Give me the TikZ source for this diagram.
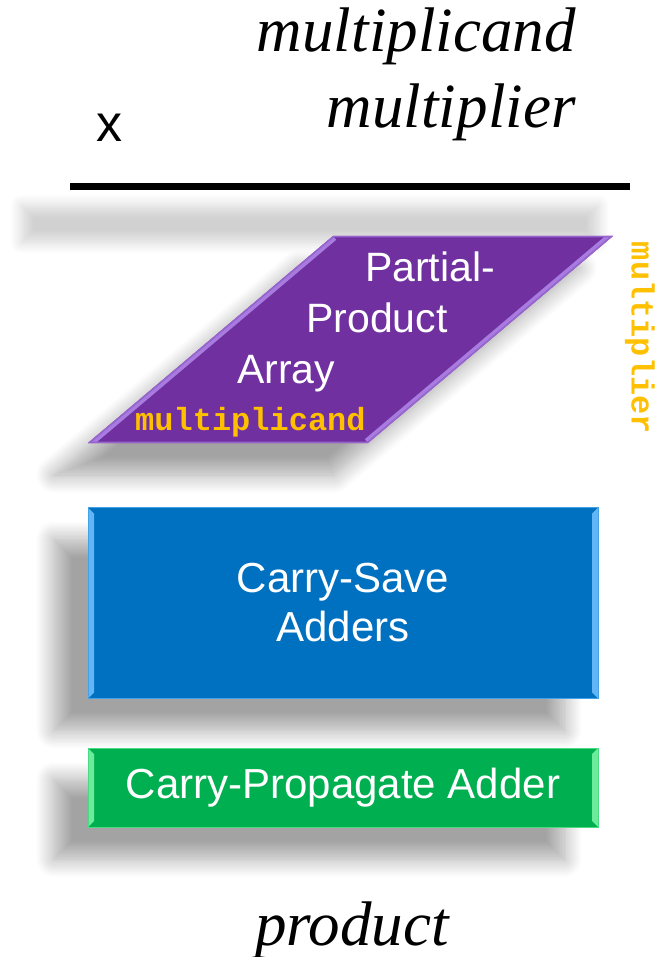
\documentclass[tikz,border=0pt]{standalone}
\usepackage{fontspec}
\setmainfont{Liberation Serif}
\setsansfont{Liberation Sans}
\setmonofont{Liberation Mono}
\usetikzlibrary{shadows.blur}

\definecolor{ppurple}{HTML}{7030A0}
\definecolor{ppurplelt}{HTML}{A77BDF}
\definecolor{pblue}{HTML}{0070C0}
\definecolor{pbluelt}{HTML}{62B6F6}
\definecolor{pgreen}{HTML}{00B050}
\definecolor{pgreenlt}{HTML}{6BEB9B}
\definecolor{porange}{HTML}{FFC000}

\begin{document}
\begin{tikzpicture}[x=1pt, y=-1pt,
    softshadow/.style = {blur shadow={shadow xshift=-34pt, shadow yshift=-32pt,
        shadow blur radius=18pt, shadow opacity=36, shadow blur steps=14}},
    bevel/.style = {path picture={
        \fill[#1] (path picture bounding box.north west) -- ++(6pt,-6pt)
            -- ([xshift=6pt,yshift=6pt]path picture bounding box.south west)
            -- (path picture bounding box.south west) -- cycle;
        \fill[#1] (path picture bounding box.north east) -- ++(-6pt,-6pt)
            -- ([xshift=-6pt,yshift=6pt]path picture bounding box.south east)
            -- (path picture bounding box.south east) -- cycle;}},
    stage/.style = {rectangle, minimum width=510pt, inner sep=0pt, softshadow,
        text=white, align=center, font=\sffamily\fontsize{42}{49}\selectfont},
    operand/.style = {font=\rmfamily\itshape\fontsize{63}{63}\selectfont},
    bits/.style = {text=porange, inner sep=0pt, font=\ttfamily\bfseries\fontsize{32}{32}\selectfont},
    celltext/.style = {text=white, inner sep=0pt, font=\sffamily\fontsize{41}{41}\selectfont}]

    \useasboundingbox (0,0) rectangle (660,957);

    % Operands
    \node[operand, anchor=base east] (mcand) at (579,52) {multiplicand};
    \node[operand, anchor=base east] (mplier) at (579,128) {multiplier};
    \node[anchor=base west, inner sep=0pt, font=\sffamily\fontsize{52}{52}\selectfont] (times) at (96,142) {x};

    % Rule and its fuzzy shadow
    \draw[line width=7pt] (70,187) -- (630,187);
    \path[blur shadow={shadow xshift=0pt, shadow yshift=0pt, shadow blur radius=12pt,
        shadow opacity=18, shadow blur steps=10}] (22,206) rectangle (598,242);

    % Partial-product array
    \path[fill=ppurple, softshadow] (333,236) -- (613,236) -- (368,443) -- (88,443) -- cycle;
    \begin{scope}
        \clip (333,236) -- (613,236) -- (368,443) -- (88,443) -- cycle;
        \draw[ppurplelt, line width=10pt] (333,236) -- (88,443);
        \draw[ppurplelt, line width=10pt] (613,236) -- (368,443);
        \draw[ppurplelt!70!ppurple, line width=3pt] (333,236) -- (613,236) -- (368,443) -- (88,443) -- cycle;
    \end{scope}
    \node[celltext, anchor=base] (pp1) at (430,282) {Partial-};
    \node[celltext, anchor=base] (pp2) at (377,332) {Product};
    \node[celltext, anchor=base] (pp3) at (286,383) {Array};
    \node[bits, anchor=base west] (mcandbits) at (135,430) {multiplicand};
    \node[bits, rotate=-90] (mplierbits) at (640,338) {multiplier};

    % Carry-save adders
    \node[stage, fill=pblue, draw=pbluelt!70!pblue, line width=1pt, bevel=pbluelt,
        minimum height=191pt] (csa) at (343,603) {Carry-Save\\Adders};

    % Carry-propagate adder
    \node[stage, fill=pgreen, draw=pgreenlt!70!pgreen, line width=1pt, bevel=pgreenlt,
        minimum height=79pt] (cpa) at (343,787.5) {Carry-Propagate Adder};

    % Result
    \node[operand, anchor=base] (prod) at (352,945) {product};
\end{tikzpicture}
\end{document}
